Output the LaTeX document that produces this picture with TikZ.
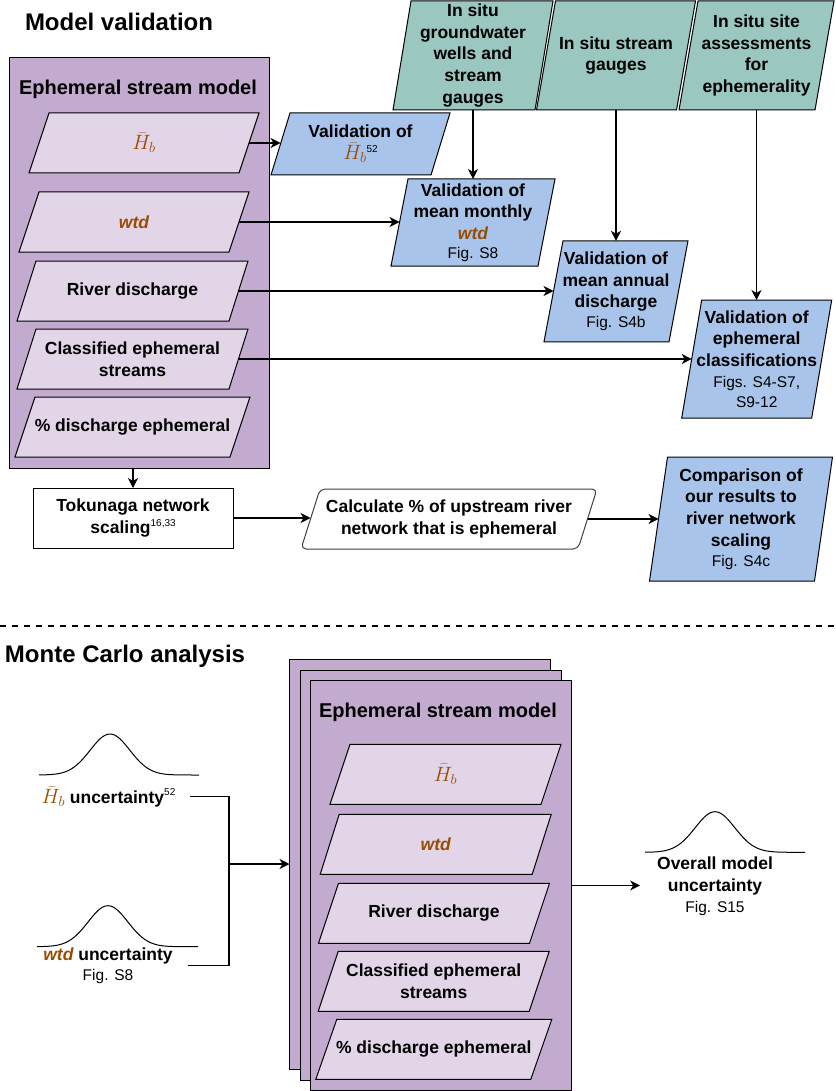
\documentclass[tikz,border=0pt]{standalone}
\usepackage{fontspec}
\setmainfont{Liberation Sans}
\usetikzlibrary{arrows.meta}
\definecolor{mpurple}{HTML}{C3ABD0}
\definecolor{lpurple}{HTML}{E1D5E7}
\definecolor{vblue}{HTML}{A9C4EB}
\definecolor{dteal}{HTML}{9AC7BF}
\definecolor{brn}{HTML}{994C00}
\newcommand{\bft}{\fontsize{17.5}{21.8}\selectfont\bfseries}
\newcommand{\figt}[1]{{\mdseries\fontsize{15.5}{18}\selectfont #1}}
\newcommand{\supn}[1]{\raisebox{0.42em}{\mdseries\fontsize{10}{10}\selectfont #1}}
\newcommand{\Hb}{\textcolor{brn}{\fontsize{22.5}{22.5}\selectfont$\bar{H}_b$}}
\newcommand{\wtdt}{\textcolor{brn}{\bfseries\itshape wtd}}
% parallelogram shape: rectangle body, slanted sides; east/west anchors lie on the slanted sides
\makeatletter
\newdimen\pgmL \newdimen\pgmR \newdimen\pgmT \newdimen\pgmB \newdimen\pgmS
\pgfkeys{/pgf/pgm skew/.initial=20pt}
\pgfdeclareshape{pgm}{%
  \inheritsavedanchors[from=rectangle]%
  \inheritanchorborder[from=rectangle]%
  \inheritanchor[from=rectangle]{center}%
  \inheritanchor[from=rectangle]{north}%
  \inheritanchor[from=rectangle]{south}%
  \inheritanchor[from=rectangle]{east}%
  \inheritanchor[from=rectangle]{west}%
  \inheritanchor[from=rectangle]{text}%
  \backgroundpath{%
    \pgfmathsetlength\pgmS{\pgfkeysvalueof{/pgf/pgm skew}}%
    \pgmS=0.5\pgmS
    \southwest \pgmL=\pgf@x \pgmB=\pgf@y
    \northeast \pgmR=\pgf@x \pgmT=\pgf@y
    \pgfpathmoveto{\pgfqpoint{\dimexpr\pgmL-\pgmS\relax}{\pgmB}}%
    \pgfpathlineto{\pgfqpoint{\dimexpr\pgmL+\pgmS\relax}{\pgmT}}%
    \pgfpathlineto{\pgfqpoint{\dimexpr\pgmR+\pgmS\relax}{\pgmT}}%
    \pgfpathlineto{\pgfqpoint{\dimexpr\pgmR-\pgmS\relax}{\pgmB}}%
    \pgfpathclose
  }%
}
\makeatother
\begin{document}
\begin{tikzpicture}[x=1pt,y=-1pt,
  every node/.style={inner sep=0pt, outer sep=0pt},
  bt/.style={font=\bft, align=center},
  ttl/.style={font=\fontsize{24}{28}\selectfont\bfseries, anchor=west},
  mtitle/.style={font=\fontsize{20}{24}\selectfont\bfseries},
  pgram/.style n args={3}{shape=pgm, /pgf/pgm skew=#3pt,
     minimum width={#1pt-#3pt}, minimum height=#2pt,
     draw=black, line width=1pt, bt},
  mbox/.style={rectangle, draw=black, fill=mpurple, line width=1pt, minimum width=261pt, minimum height=410pt},
  arr/.style={line width=1.3pt, -{Stealth[length=10pt,width=10pt,inset=3pt]}},
  ln/.style={line width=1.3pt},
  gauss/.style={line width=1pt}
]
\useasboundingbox (0,0) rectangle (835,1091);

% ---------------- Model validation ----------------
\node[ttl] (ttl1) at (25,22) {Model validation};
\node[mbox, minimum width=260pt] (m1) at (139,263) {};
\node[mtitle] (m1t) at (138,89) {Ephemeral stream model};
\node[pgram={230}{60}{20}, fill=lpurple] (p1) at (144,143) {\Hb};
\node[pgram={230}{60}{20}, fill=lpurple] (p2) at (134,222) {\wtdt};
\node[pgram={231}{60}{19}, fill=lpurple] (p3) at (132.5,291) {River discharge};
\node[pgram={231}{60}{19}, fill=lpurple] (p4) at (132.5,359) {Classified ephemeral\\streams};
\node[pgram={235}{60}{20}, fill=lpurple] (p5) at (132.5,427) {\% discharge ephemeral};

\node[pgram={160}{109}{18}, fill=dteal] (t1) at (473,55.5) {In situ\\groundwater\\wells and\\stream\\gauges};
\node[pgram={159}{109}{19}, fill=dteal] (t2) at (616,55.5) {In situ stream\\gauges};
\node[pgram={155}{109}{19}, fill=dteal] (t3) at (756.5,55.5) {In situ site\\assessments\\for\\ephemerality};

\node[pgram={179}{62}{19}, fill=vblue] (b1) at (360.5,144) {Validation of\\\Hb\supn{52}};
\node[pgram={164}{87}{17}, fill=vblue] (b2) at (473,222.5) {Validation of\\mean monthly\\\wtdt\\[-3pt]\figt{Fig. S8}};
\node[pgram={144}{101}{19}, fill=vblue] (b3) at (616,291.3) {Validation of\\mean annual\\discharge\\[-2pt]\figt{Fig. S4b}};
\node[pgram={150}{118}{20}, fill=vblue] (b4) at (756.7,359) {Validation of\\ephemeral\\classifications\\[-1pt]\figt{Figs. S4-S7,}\\[-2pt]\figt{S9-12}};

\node[rectangle, draw=black, fill=white, minimum width=200pt, minimum height=60pt, line width=1pt, bt] (tok) at (133,518) {Tokunaga network\\scaling\supn{16,33}};
\node[pgram={296}{60}{19}, fill=white, rounded corners=5pt, draw=black!75] (calc) at (449,519) {Calculate \% of upstream river\\network that is ephemeral};
\node[pgram={183}{124}{18}, fill=vblue] (comp) at (741,519) {Comparison of\\our results to\\river network\\scaling\\[-2pt]\figt{Fig. S4c}};

\draw[arr] (p1.east) -- (p1.east -| b1.west);
\draw[arr] (p2.east) -- (p2.east -| b2.west);
\draw[arr] (p3.east) -- (p3.east -| b3.west);
\draw[arr] (p4.east) -- (p4.east -| b4.west);
\draw[arr] (t1.south) -- (t1.south |- b2.north);
\draw[arr] (t2.south) -- (t2.south |- b3.north);
\draw[arr] (t3.south) -- (t3.south |- b4.north);
\draw[arr] (m1.south -| tok.north) -- (tok.north);
\draw[arr] (tok.east) -- (tok.east -| calc.west);
\draw[arr] (calc.east) -- (calc.east -| comp.west);

% separator
\coordinate (sepL) at (0,626);
\coordinate (sepR) at (835,626);
\draw[line width=1.3pt, dash pattern=on 6pt off 6pt] (sepL) -- (sepR);

% ---------------- Monte Carlo analysis ----------------
\node[ttl] (ttl2) at (5,656) {Monte Carlo analysis};
\node[mbox] (s1) at (420,864) {};
\node[mbox] (s2) at (430.5,875) {};
\node[mbox] (s3) at (441,885.5) {};
\node[mtitle] (s3t) at (438,712) {Ephemeral stream model};
\node[pgram={231}{60}{20}, fill=lpurple] (q1) at (445.5,774.3) {\Hb};
\node[pgram={231}{60}{19}, fill=lpurple] (q2) at (435.7,844.3) {\wtdt};
\node[pgram={231}{60}{20}, fill=lpurple] (q3) at (434,913.3) {River discharge};
\node[pgram={231}{60}{20}, fill=lpurple] (q4) at (433.7,981.4) {Classified ephemeral\\streams};
\node[pgram={236}{60}{21}, fill=lpurple] (q5) at (433.8,1049.3) {\% discharge ephemeral};

\draw[gauss] plot[domain=-71:89, samples=90, smooth] ({110+\x}, {775-41*exp(-(\x/28)^2)});
\draw[gauss] plot[domain=-71:90, samples=90, smooth] ({108+\x}, {946.7-41*exp(-(\x/28)^2)});
\draw[gauss] plot[domain=-70:90, samples=90, smooth] ({715+\x}, {852.3-40.6*exp(-(\x/28)^2)});

\node[bt, inner xsep=15pt] (hu) at (108.5,796.7) {\Hb\ uncertainty\supn{52}};
\node[bt, inner xsep=15pt] (wu) at (108,965.5) {\wtdt\ uncertainty\\[-2pt]\figt{Fig. S8}};
\coordinate (jn) at (229,864);
\draw[ln] (hu.east) -| (jn);
\draw[ln] (wu.east) -| (jn);
\draw[arr] (jn) -- (jn -| s1.west);

\node[bt, inner xsep=17pt] (ovr) at (715,886) {Overall model\\uncertainty\\[-1pt]\figt{Fig. S15}};
\draw[arr] (s3.east) -- (s3.east -| ovr.west);
\end{tikzpicture}
\end{document}
